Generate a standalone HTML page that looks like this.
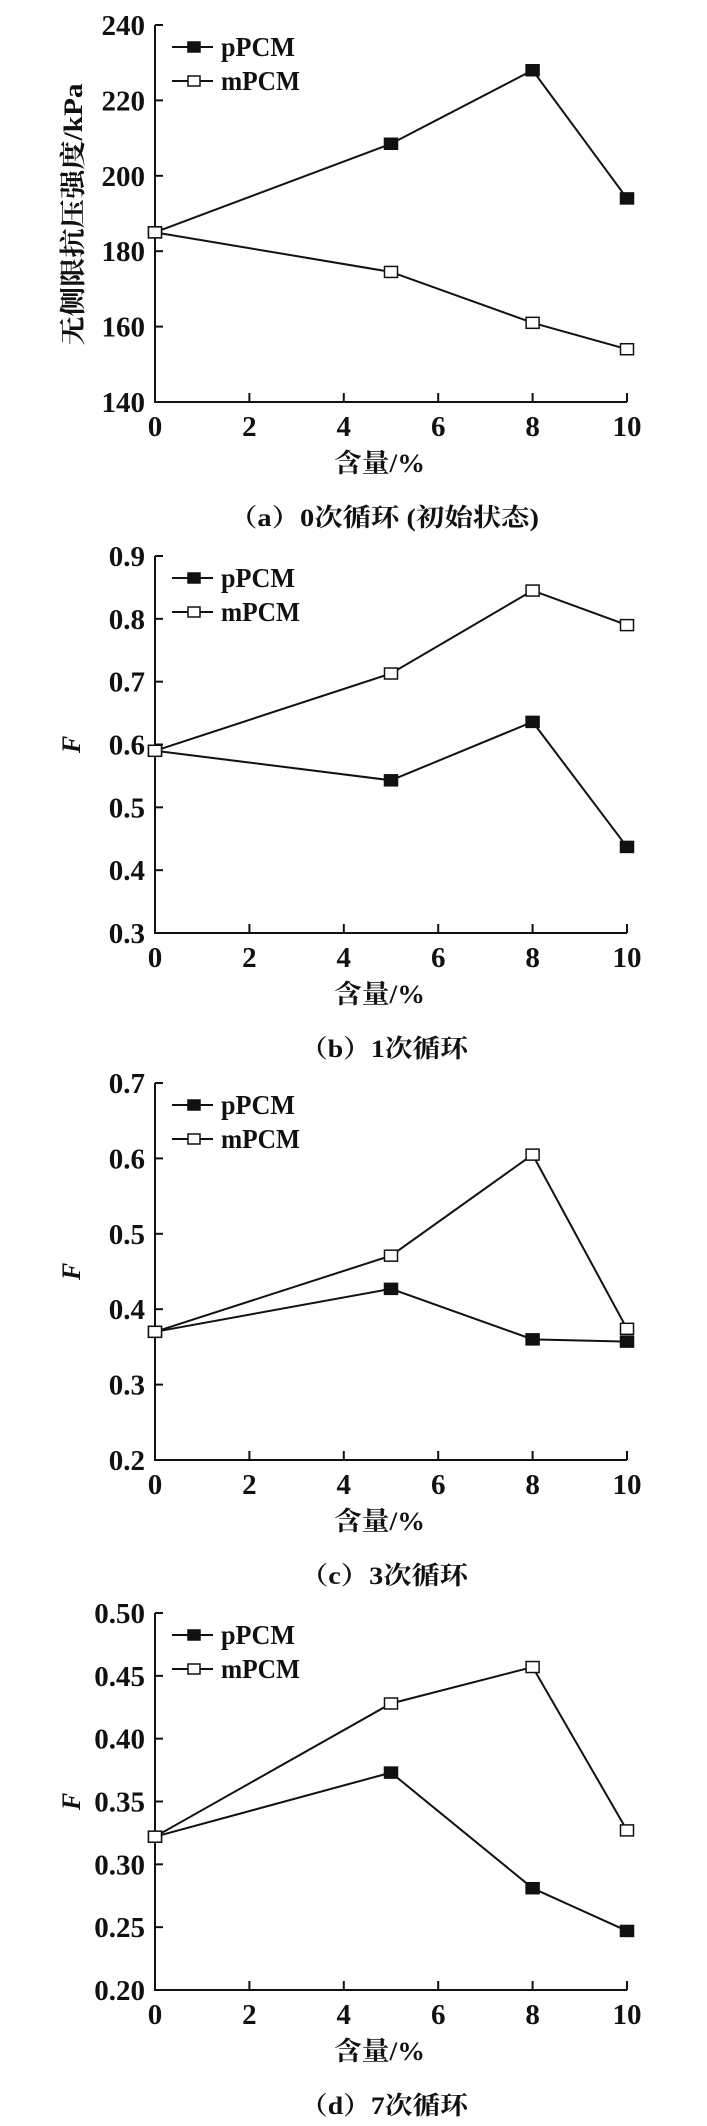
<!DOCTYPE html>
<html><head><meta charset="utf-8"><style>
html,body{margin:0;padding:0;background:#fff}
svg{display:block}
text{font-family:"Liberation Serif","Noto Serif CJK SC",serif;font-weight:bold;fill:#111}
.cn{font-family:"Liberation Serif","Noto Serif CJK SC","Noto Sans CJK SC",serif}
</style></head><body>
<svg id="s" width="707" height="2126" viewBox="0 0 707 2126" xmlns="http://www.w3.org/2000/svg"></svg>
<script>
const S=document.getElementById('s');let h='';
const X0=155,X1=627;
const panels=[
 {T:25,min:140,max:240,step:20,dec:0,yl:'无侧限抗压强度/kPa',cap:'（a）0次循环 (初始状态)',cw:310,
  p:[185,208.5,228,194],m:[185,174.5,161,154]},
 {T:556,min:0.3,max:0.9,step:0.1,dec:1,yl:'F',cap:'（b）1次循环',cw:168,
  p:[0.59,0.543,0.636,0.437],m:[0.59,0.713,0.845,0.79]},
 {T:1083,min:0.2,max:0.7,step:0.1,dec:1,yl:'F',cap:'（c）3次循环',cw:168,
  p:[0.37,0.427,0.36,0.357],m:[0.37,0.471,0.605,0.374]},
 {T:1613,min:0.2,max:0.5,step:0.05,dec:2,yl:'F',cap:'（d）7次循环',cw:168,
  p:[0.322,0.373,0.281,0.247],m:[0.322,0.428,0.457,0.327]}];
const xs=[0,5,8,10];
panels.forEach(P=>{
 const T=P.T,B=T+377;
 const sx=v=>X0+(X1-X0)*v/10, sy=v=>B-(B-T)*(v-P.min)/(P.max-P.min);
 h+=`<path d="M${X0} ${T}V${B}H${X1}" fill="none" stroke="#111" stroke-width="2"/>`;
 const n=Math.round((P.max-P.min)/P.step);
 for(let i=0;i<=n;i++){const v=P.min+i*P.step,y=sy(v);
  h+=`<line x1="${X0}" y1="${y}" x2="${X0+8}" y2="${y}" stroke="#111" stroke-width="2"/>`;
  h+=`<text x="145" y="${y+10}" font-size="29" text-anchor="end">${v.toFixed(P.dec)}</text>`;}
 for(let v=0;v<=10;v+=2){const x=sx(v);
  h+=`<line x1="${x}" y1="${B}" x2="${x}" y2="${B-9}" stroke="#111" stroke-width="2"/>`;
  h+=`<text x="${x}" y="${B+34}" font-size="29" text-anchor="middle">${v}</text>`;}
 h+=`<text class="cn" x="334" y="${B+70}" font-size="26" textLength="91" lengthAdjust="spacingAndGlyphs">含量/%</text>`;
 h+=`<text class="cn" x="${384-P.cw/2}" y="${B+124}" font-size="25" textLength="${P.cw}" lengthAdjust="spacingAndGlyphs">${P.cap}</text>`;
 if(P.yl=='F') h+=`<text x="0" y="0" font-size="26" font-style="italic" font-weight="normal" transform="translate(80 ${(T+B)/2}) rotate(-90)" text-anchor="middle">F</text>`;
 else h+=`<text class="cn" x="-131" y="0" font-size="26" textLength="262" lengthAdjust="spacingAndGlyphs" transform="translate(82 ${(T+B)/2+1}) rotate(-90)">${P.yl}</text>`;
 const line=(d,fill)=>{h+=`<polyline points="${d.map((v,i)=>sx(xs[i])+','+sy(v)).join(' ')}" fill="none" stroke="#111" stroke-width="2"/>`;
  d.forEach((v,i)=>{h+=`<rect x="${sx(xs[i])-6.5}" y="${sy(v)-5.5}" width="13" height="11" fill="${fill}" stroke="#111" stroke-width="1.5"/>`;});};
 line(P.p,'#111');line(P.m,'#fff');
 [[22,'pPCM','#111',74],[56,'mPCM','#fff',79]].forEach(([dy,t,f,w])=>{const y=T+dy;
  h+=`<line x1="172" y1="${y}" x2="213" y2="${y}" stroke="#111" stroke-width="2"/>`;
  h+=`<rect x="${194-6}" y="${y-5}" width="12" height="10" fill="${f}" stroke="#111" stroke-width="1.5"/>`;
  h+=`<text x="221" y="${y+9}" font-size="27" textLength="${w}" lengthAdjust="spacingAndGlyphs">${t}</text>`;});
});
S.innerHTML=h;
</script>
</body></html>
